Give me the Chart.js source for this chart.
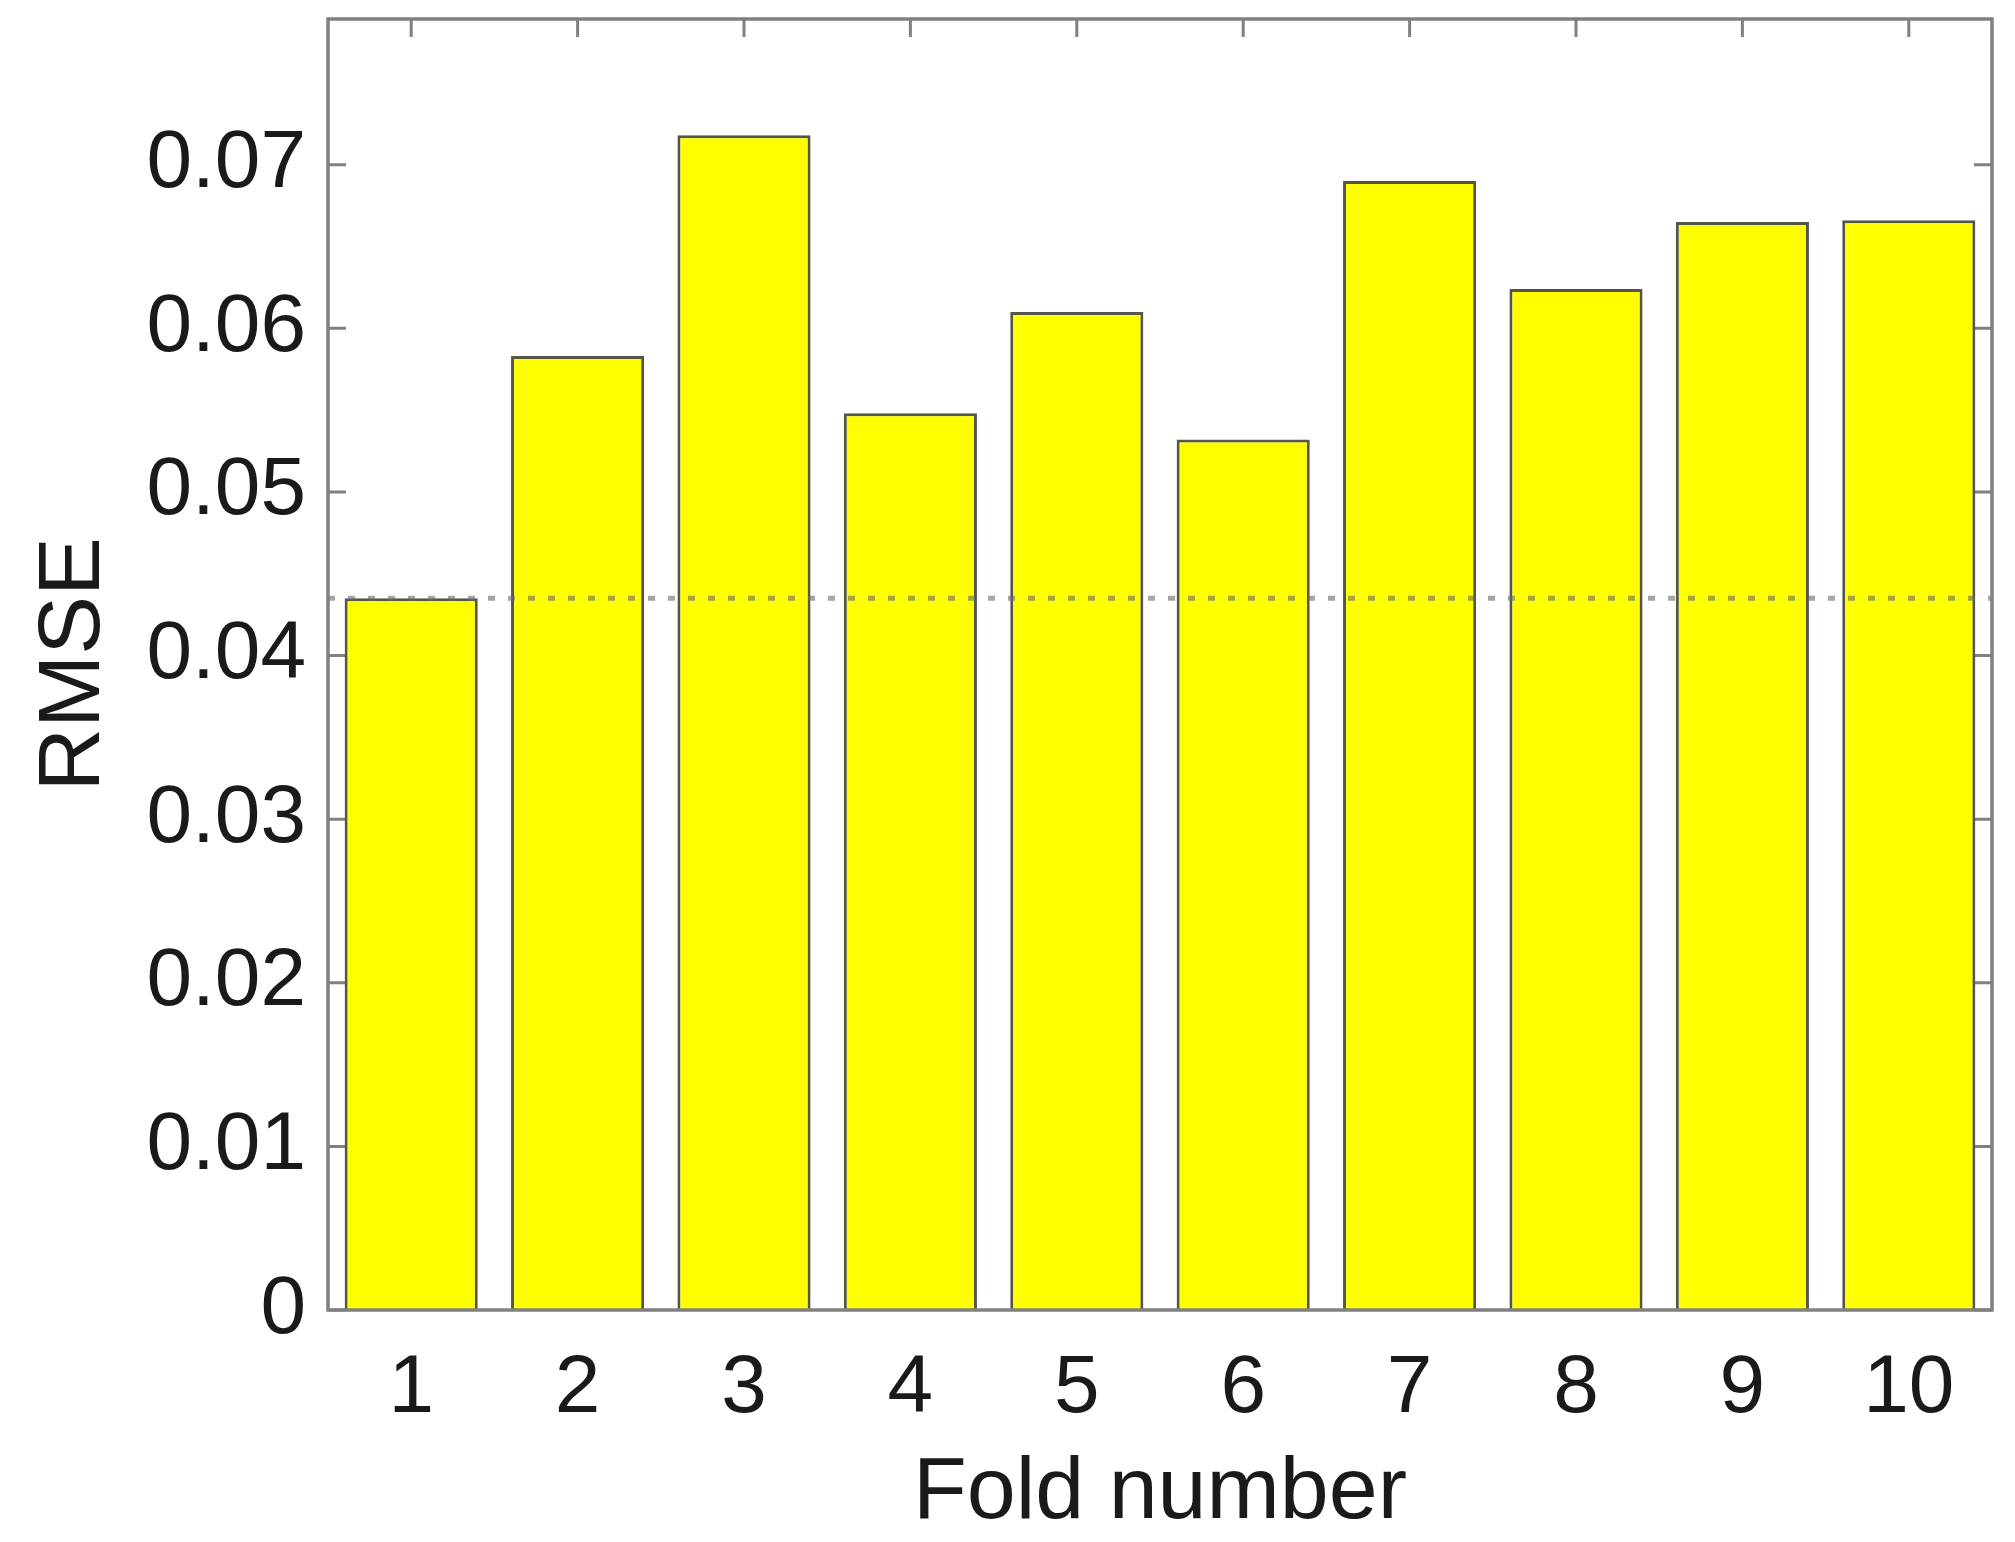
<!DOCTYPE html>
<html>
<head>
<meta charset="utf-8">
<script src="https://cdn.jsdelivr.net/npm/chart.js@4/dist/chart.umd.min.js"></script>
<style>
  html, body { margin: 0; padding: 0; background: #fff; }
  #wrap { width: 2015px; height: 1542px; }
</style>
</head>
<body>
<div id="wrap"><canvas id="rmseChart" width="2015" height="1542"></canvas></div>
<script>
// data
const folds = ['1', '2', '3', '4', '5', '6', '7', '8', '9', '10'];
const rmse = [0.0435, 0.0583, 0.0718, 0.0548, 0.0610, 0.0532, 0.0690, 0.0624, 0.0665, 0.0666];
const yTicks = [0, 0.01, 0.02, 0.03, 0.04, 0.05, 0.06, 0.07];
const yMax = 0.0789;
const refValue = rmse[0]; // dotted reference line at fold 1

const axisColor = '#808080';
const textColor = '#1a1a1a';
const FONT = '"Liberation Sans", Arial, sans-serif';

// box + inner ticks, matlab style
const boxPlugin = {
    id: 'boxTicks',
    beforeDatasetsDraw(chart) {
        const { ctx, chartArea: a, scales: { x, y } } = chart;
        const len = 18;
        ctx.save();
        ctx.strokeStyle = axisColor;
        ctx.lineWidth = 3;
        ctx.beginPath();
        folds.forEach((f, i) => {
            const px = x.getPixelForValue(i);
            ctx.moveTo(px, a.top); ctx.lineTo(px, a.top + len);
            ctx.moveTo(px, a.bottom); ctx.lineTo(px, a.bottom - len);
        });
        yTicks.forEach(v => {
            const py = y.getPixelForValue(v);
            ctx.moveTo(a.left, py); ctx.lineTo(a.left + len, py);
            ctx.moveTo(a.right, py); ctx.lineTo(a.right - len, py);
        });
        ctx.stroke();
        ctx.restore();
    },
    afterDatasetsDraw(chart) {
        const { ctx, chartArea: a, scales: { y } } = chart;
        const py = y.getPixelForValue(refValue);
        ctx.save();
        ctx.strokeStyle = 'rgba(105,105,105,0.6)';
        ctx.lineWidth = 5;
        ctx.setLineDash([7, 13]);
        ctx.beginPath();
        ctx.moveTo(a.left, py); ctx.lineTo(a.right, py);
        ctx.stroke();
        ctx.setLineDash([]);
        // box
        ctx.strokeStyle = axisColor;
        ctx.lineWidth = 3.5;
        ctx.strokeRect(a.left, a.top, a.right - a.left, a.bottom - a.top);
        ctx.restore();
    }
};

const ctx = document.getElementById('rmseChart').getContext('2d');
new Chart(ctx, {
    type: 'bar',
    data: {
        labels: folds,
        datasets: [{
            data: rmse,
            backgroundColor: '#ffff00',
            borderColor: '#55554a',
            borderWidth: 3,
            barPercentage: 0.8,
            categoryPercentage: 1
        }]
    },
    options: {
        responsive: false,
        animation: false,
        events: [],
        layout: { padding: { top: 19, right: 23, left: 0, bottom: 0 } },
        plugins: { legend: { display: false }, tooltip: { enabled: false } },
        scales: {
            x: {
                grid: { display: false, drawTicks: false },
                border: { display: false },
                ticks: { color: textColor, font: { family: FONT, size: 82 }, padding: 30, maxRotation: 0 },
                title: { display: true, text: 'Fold number', color: textColor, font: { family: FONT, size: 88, lineHeight: 1.1 }, padding: { top: 0, bottom: 0 } },
                afterFit: s => { s.height = 232; s.paddingLeft = 0; s.paddingRight = 0; }
            },
            y: {
                min: 0,
                max: yMax,
                grid: { display: false, drawTicks: false },
                border: { display: false },
                ticks: { stepSize: 0.01, includeBounds: false, color: textColor, font: { family: FONT, size: 82 }, padding: 22 },
                title: { display: true, text: 'RMSE', color: textColor, font: { family: FONT, size: 88 }, padding: { top: 22, bottom: 0 } },
                afterFit: s => { s.width = 328; s.paddingTop = 0; s.paddingBottom = 0; }
            }
        }
    },
    plugins: [boxPlugin]
});
</script>
</body>
</html>
